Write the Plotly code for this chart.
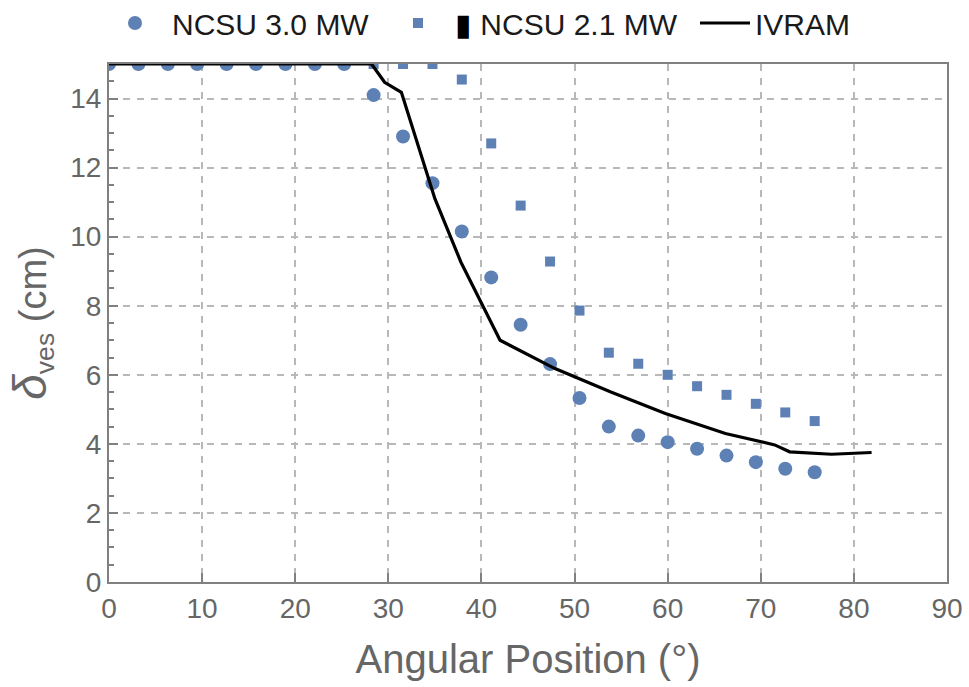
import plotly.graph_objects as go

# Angular positions of the measurement stations (degrees)
angle = [0.0, 3.16, 6.32, 9.47, 12.63, 15.79, 18.95, 22.11, 25.26, 28.42,
         31.58, 34.74, 37.89, 41.05, 44.21, 47.37, 50.53, 53.68, 56.84, 60.0,
         63.16, 66.32, 69.47, 72.63, 75.79]

# Vapor film / boundary-layer thickness, NCSU 3.0 MW case (cm)
ncsu_30 = [15.0, 15.0, 15.0, 15.0, 15.0, 15.0, 15.0, 15.0, 15.0, 14.1,
           12.9, 11.55, 10.15, 8.82, 7.45, 6.31, 5.33, 4.50, 4.24, 4.05,
           3.86, 3.66, 3.47, 3.28, 3.18]

# NCSU 2.1 MW case (cm)
ncsu_21 = [15.0, 15.0, 15.0, 15.0, 15.0, 15.0, 15.0, 15.0, 15.0, 15.0,
           15.0, 15.0, 14.55, 12.7, 10.9, 9.28, 7.86, 6.64, 6.32, 6.0,
           5.67, 5.42, 5.16, 4.91, 4.66]

# IVRAM prediction
ivram_angle = [0.0, 28.2, 29.6, 31.4, 35.0, 37.8, 42.0, 47.9, 53.9, 59.75,
               66.2, 70.8, 71.5, 73.1, 77.6, 81.9]
ivram_delta = [15.0, 15.0, 14.47, 14.18, 11.1, 9.26, 7.0, 6.18, 5.5, 4.88,
               4.30, 4.01, 3.97, 3.77, 3.70, 3.75]

x_ticks = [0, 10, 20, 30, 40, 50, 60, 70, 80, 90]
y_ticks = [0, 2, 4, 6, 8, 10, 12, 14]

BLUE = "#5E81B5"
FONT = "Liberation Sans, Arial, sans-serif"
GRID = "#b8b8b8"
FRAME = "#808080"
LABEL = "#666666"
W, H = 969, 687

fig = go.Figure()
fig.add_trace(go.Scatter(
    x=angle, y=ncsu_30, mode="markers", name="NCSU 3.0 MW",
    marker=dict(symbol="circle", size=14, color=BLUE, line=dict(width=0)),
    legend="legend",
))
fig.add_trace(go.Scatter(
    x=angle, y=ncsu_21, mode="markers",
    name="<span style='color:#000000'>▮</span> NCSU 2.1 MW",
    marker=dict(symbol="square", size=10, color=BLUE, line=dict(width=0)),
    legend="legend2",
))
fig.add_trace(go.Scatter(
    x=ivram_angle, y=ivram_delta, mode="lines", name="IVRAM",
    line=dict(color="#000000", width=3.2),
    legend="legend3",
))

axis_common = dict(
    showline=True, linecolor=FRAME, linewidth=2, mirror=True,
    showgrid=True, gridcolor=GRID, gridwidth=2, griddash="7px,7px",
    zeroline=False, ticks="inside", ticklen=9, tickwidth=1.5,
    tickcolor=FRAME,
    tickfont=dict(family=FONT, size=28, color=LABEL),
)

fig.update_xaxes(
    range=[0, 90], tickvals=x_ticks, ticktext=[str(v) for v in x_ticks],
    title=dict(text="Angular Position (°)",
               font=dict(family=FONT, size=40, color=LABEL), standoff=22),
    **axis_common,
)
fig.update_yaxes(
    range=[0, 15], tickvals=y_ticks, ticktext=[str(v) for v in y_ticks],
    minor=dict(dtick=0.5, ticks="inside", ticklen=5, tickcolor=FRAME,
               showgrid=False),
    title=dict(text="<span style='font-size:46px'><i>δ</i></span>"
                    "<sub>ves</sub> (cm)",
               font=dict(family=FONT, size=38, color=LABEL), standoff=12),
    **axis_common,
)

legend_common = dict(
    orientation="h", xref="container", yref="container",
    xanchor="left", yanchor="middle", y=1 - 23 / H,
    font=dict(family=FONT, size=30, color="#1a1a1a"),
    bgcolor="rgba(0,0,0,0)", borderwidth=0, itemwidth=64,
)

fig.update_layout(
    width=W, height=H,
    margin=dict(l=109, r=22, t=64, b=105, autoexpand=False),
    paper_bgcolor="white", plot_bgcolor="white",
    showlegend=True,
    legend=dict(x=98 / W, **legend_common),
    legend2=dict(x=381 / W, **legend_common),
    legend3=dict(x=695 / W, **legend_common),
)
# the line entry uses a shorter sample stroke
fig.layout.legend3.itemwidth = 50

fig.write_html("out.html")
